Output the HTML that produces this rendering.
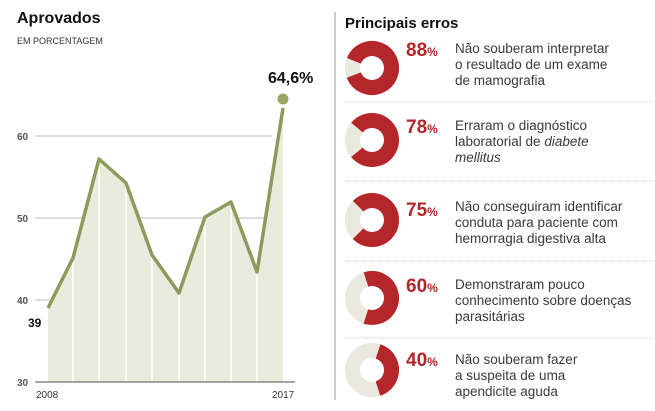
<!DOCTYPE html>
<html><head><meta charset="utf-8"><style>
body{margin:0;background:#fff;width:655px;height:411px;overflow:hidden;font-family:"Liberation Sans",sans-serif}
svg{position:absolute;left:0;top:0}
</style></head><body>
<svg width="655" height="411" viewBox="0 0 655 411" font-family="Liberation Sans, sans-serif">
<text x="17" y="23" font-size="16" font-weight="bold" fill="#111">Aprovados</text>
<text x="17" y="44" font-size="9" fill="#333">EM PORCENTAGEM</text>
<g stroke="#bbb" stroke-width="1">
<line x1="35" y1="136" x2="272" y2="136"/><line x1="35" y1="218" x2="272" y2="218"/><line x1="35" y1="300" x2="272" y2="300"/>
</g>
<polygon fill="#e9ecdc" points="48,308 73,258 99,159 126,183 152,255 179,293 205,217 231,202 257,272 283,108 283,382 48,382"/>
<g stroke="#fff" stroke-width="1.5">
<line x1="73" y1="258" x2="73" y2="382"/><line x1="99" y1="159" x2="99" y2="382"/><line x1="126" y1="183" x2="126" y2="382"/><line x1="152" y1="255" x2="152" y2="382"/><line x1="179" y1="293" x2="179" y2="382"/><line x1="205" y1="217" x2="205" y2="382"/><line x1="231" y1="202" x2="231" y2="382"/><line x1="257" y1="272" x2="257" y2="382"/>
</g>
<line x1="35" y1="382" x2="295" y2="382" stroke="#888" stroke-width="1.5"/>
<polyline fill="none" stroke="#8b9b5c" stroke-width="3.5" stroke-linejoin="round" points="48,308 73,258 99,159 126,183 152,255 179,293 205,217 231,202 257,272 283,108"/>
<circle cx="283" cy="99" r="5.5" fill="#99a766"/>
<text x="268" y="83" font-size="16" font-weight="bold" fill="#111">64,6%</text>
<text x="28" y="327" font-size="12" font-weight="bold" fill="#111">39</text>
<g font-size="10" font-weight="bold" fill="#555">
<text x="17" y="140">60</text><text x="17" y="222">50</text><text x="17" y="304">40</text><text x="17" y="386">30</text>
</g>
<g font-size="10" fill="#333"><text x="36" y="398">2008</text><text x="272" y="398">2017</text></g>
<line x1="335" y1="12" x2="335" y2="400" stroke="#999" stroke-width="1"/>
<text x="345" y="28" font-size="15" font-weight="bold" fill="#111">Principais erros</text>
<g stroke="#ccc" stroke-width="1" stroke-dasharray="1,1">
<line x1="345" y1="102" x2="655" y2="102"/><line x1="345" y1="181" x2="655" y2="181"/><line x1="345" y1="261" x2="655" y2="261"/><line x1="345" y1="338" x2="655" y2="338"/>
</g>
<g fill="none" stroke-width="15">
<circle cx="372" cy="68" r="19.5" stroke="#e9e9e0"/>
<circle cx="372" cy="68" r="19.5" stroke="#b3262a" stroke-dasharray="107.8 200" transform="rotate(-158.4 372 68)"/>
<circle cx="372" cy="140" r="19.5" stroke="#e9e9e0"/>
<circle cx="372" cy="140" r="19.5" stroke="#b3262a" stroke-dasharray="95.6 200" transform="rotate(-140.4 372 140)"/>
<circle cx="372" cy="220" r="19.5" stroke="#e9e9e0"/>
<circle cx="372" cy="220" r="19.5" stroke="#b3262a" stroke-dasharray="91.9 200" transform="rotate(-135 372 220)"/>
<circle cx="372" cy="298" r="19.5" stroke="#e9e9e0"/>
<circle cx="372" cy="298" r="19.5" stroke="#b3262a" stroke-dasharray="73.5 200" transform="rotate(-108 372 298)"/>
<circle cx="372" cy="370" r="19.5" stroke="#e9e9e0"/>
<circle cx="372" cy="370" r="19.5" stroke="#b3262a" stroke-dasharray="49 200" transform="rotate(-72 372 370)"/>
</g>
<g fill="#b3262a" font-weight="bold">
<text x="406" y="56" font-size="19">88<tspan font-size="12">%</tspan></text>
<text x="406" y="133" font-size="19">78<tspan font-size="12">%</tspan></text>
<text x="406" y="216" font-size="19">75<tspan font-size="12">%</tspan></text>
<text x="406" y="292" font-size="19">60<tspan font-size="12">%</tspan></text>
<text x="406" y="366" font-size="19">40<tspan font-size="12">%</tspan></text>
</g>
<g font-size="13.5" fill="#3a3a3a">
<text x="455" y="53">Não souberam interpretar</text><text x="455" y="69">o resultado de um exame</text><text x="455" y="85">de mamografia</text>
<text x="455" y="130">Erraram o diagnóstico</text><text x="455" y="146">laboratorial de <tspan font-style="italic">diabete</tspan></text><text x="455" y="162" font-style="italic">mellitus</text>
<text x="455" y="211">Não conseguiram identificar</text><text x="455" y="227">conduta para paciente com</text><text x="455" y="243">hemorragia digestiva alta</text>
<text x="455" y="289">Demonstraram pouco</text><text x="455" y="305">conhecimento sobre doenças</text><text x="455" y="321">parasitárias</text>
<text x="455" y="364">Não souberam fazer</text><text x="455" y="380">a suspeita de uma</text><text x="455" y="396">apendicite aguda</text>
</g>
</svg>
</body></html>
